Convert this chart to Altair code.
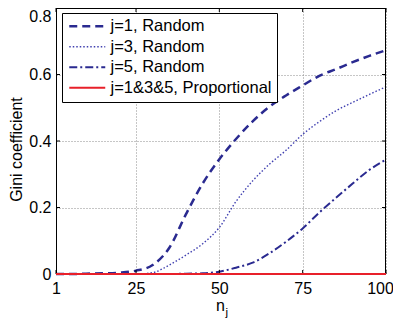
import altair as alt
import pandas as pd

# ---- data ----
x_vals = [1, 5, 10, 15, 20, 25, 30, 35, 40, 45, 50, 55, 60, 65, 70, 75, 80, 85, 90, 95, 100]
j1_random = [0, 0, 0.001, 0.002, 0.004, 0.01, 0.027, 0.079, 0.18, 0.272, 0.345, 0.406, 0.459,
             0.503, 0.537, 0.567, 0.596, 0.616, 0.637, 0.656, 0.673]
j3_random = [0, 0, 0, 0, 0, 0, 0.004, 0.027, 0.057, 0.091, 0.14, 0.218, 0.28,
             0.33, 0.372, 0.42, 0.458, 0.491, 0.516, 0.54, 0.563]
j5_random = [0, 0, 0, 0, 0, 0, 0, 0, 0.001, 0.002, 0.007, 0.019, 0.034,
             0.062, 0.097, 0.137, 0.185, 0.229, 0.272, 0.313, 0.344]
proportional = [0] * len(x_vals)

series = ["j=1, Random", "j=3, Random", "j=5, Random", "j=1&3&5, Proportional"]
colors = ["#2a2a90", "#4040b0", "#2a2a90", "#e8202a"]
dashes = [[8, 5], [1.5, 2], [8, 3, 2, 3], [1, 0]]
widths = [2.5, 1.4, 2, 2.2]

x_ticks = [1, 25, 50, 75, 100]
y_ticks = [0, 0.2, 0.4, 0.6, 0.8]

rows = []
for name, vals in zip(series, [j1_random, j3_random, j5_random, proportional]):
    for xv, yv in zip(x_vals, vals):
        rows.append({"n": xv, "gini": yv, "series": name})
df = pd.DataFrame(rows)

W, H = 330, 266
FONT = "Liberation Sans"

legend = alt.Legend(
    orient="none", legendX=6, legendY=5, title=None,
    strokeColor="black", fillColor="white", padding=5,
    symbolType="M-1,0H5", symbolSize=144, labelFontSize=16.5, labelFont=FONT,
    labelColor="black", labelOffset=27, rowPadding=3.5, cornerRadius=0, labelLimit=0,
)

xs = alt.Scale(domain=[1, 100], nice=False)
ys = alt.Scale(domain=[0, 0.8], nice=False)

enc = dict(
    x=alt.X("n:Q", scale=xs, axis=alt.Axis(
        values=x_ticks, title="n", grid=True, labelFlush=False,
        labelOffset=alt.condition("datum.value >= 100", alt.value(-6), alt.value(0)),
        titleX=164, titleY=36, titleBaseline="alphabetic", titleAlign="center")),
    y=alt.Y("gini:Q", scale=ys, axis=alt.Axis(
        values=y_ticks, title="Gini coefficient", format="~g", grid=True,
        titleX=-35, titleY=141, titleBaseline="alphabetic", titleAngle=270,
        labelBaseline=alt.condition("datum.value >= 0.8", alt.value("top"), alt.value("middle")),
    )),
    color=alt.Color("series:N", scale=alt.Scale(domain=series, range=colors), legend=legend),
    strokeDash=alt.StrokeDash("series:N", scale=alt.Scale(domain=series, range=dashes), legend=legend),
    strokeWidth=alt.StrokeWidth("series:N", scale=alt.Scale(type="ordinal", domain=series, range=widths),
                                legend=legend),
)

random_lines = alt.Chart(df).transform_filter(
    alt.FieldOneOfPredicate(field="series", oneOf=series[:3])
).mark_line(interpolate="monotone").encode(**enc)
prop_line = alt.Chart(df).transform_filter(
    alt.FieldEqualPredicate(field="series", equal=series[3])
).mark_line().encode(**enc)

# box border and inward ticks (MATLAB style)
border = alt.Chart(pd.DataFrame({"k": [0]})).mark_rule(color="black", strokeWidth=1)
b_top = border.encode(x=alt.value(0), x2=alt.value(W), y=alt.value(0.5))
b_bot = border.encode(x=alt.value(0), x2=alt.value(W), y=alt.value(H - 0.5))
b_left = border.encode(y=alt.value(0), y2=alt.value(H), x=alt.value(0.5))
b_right = border.encode(y=alt.value(0), y2=alt.value(H), x=alt.value(W - 0.5))

xt = pd.DataFrame({"t": x_ticks})
yt = pd.DataFrame({"t": y_ticks})
tick_b = alt.Chart(xt).mark_rule(color="black").encode(x=alt.X("t:Q", scale=xs), y=alt.value(H), y2=alt.value(H - 4))
tick_t = alt.Chart(xt).mark_rule(color="black").encode(x=alt.X("t:Q", scale=xs), y=alt.value(0), y2=alt.value(4))
tick_l = alt.Chart(yt).mark_rule(color="black").encode(y=alt.Y("t:Q", scale=ys), x=alt.value(0), x2=alt.value(4))
tick_r = alt.Chart(yt).mark_rule(color="black").encode(y=alt.Y("t:Q", scale=ys), x=alt.value(W), x2=alt.value(W - 4))

sub_j = alt.Chart(pd.DataFrame({"s": ["j"]})).mark_text(
    font=FONT, fontSize=11.5, align="left", baseline="alphabetic", color="black"
).encode(text="s:N", x=alt.value(169.5), y=alt.value(H + 42))

chart = alt.layer(
    random_lines, b_top, b_bot, b_left, b_right, tick_b, tick_t, tick_l, tick_r, prop_line, sub_j
).properties(
    width=W, height=H, autosize=alt.AutoSizeParams(type="none"),
    padding={"left": 48, "top": 0, "right": 7, "bottom": 44},
).configure_view(stroke=None).configure_axis(
    labelFont=FONT, labelFontSize=16, labelColor="black", titleFont=FONT, titleFontSize=16,
    titleFontWeight="normal", titleColor="black", domain=False, ticks=False,
    gridColor="#8c8c8c", gridDash=[1, 2], gridWidth=1, gridOpacity=1,
).configure_axisX(labelPadding=6).configure_axisY(labelPadding=5)

chart.save("out.html", embed_options={"renderer": "svg", "actions": False})
